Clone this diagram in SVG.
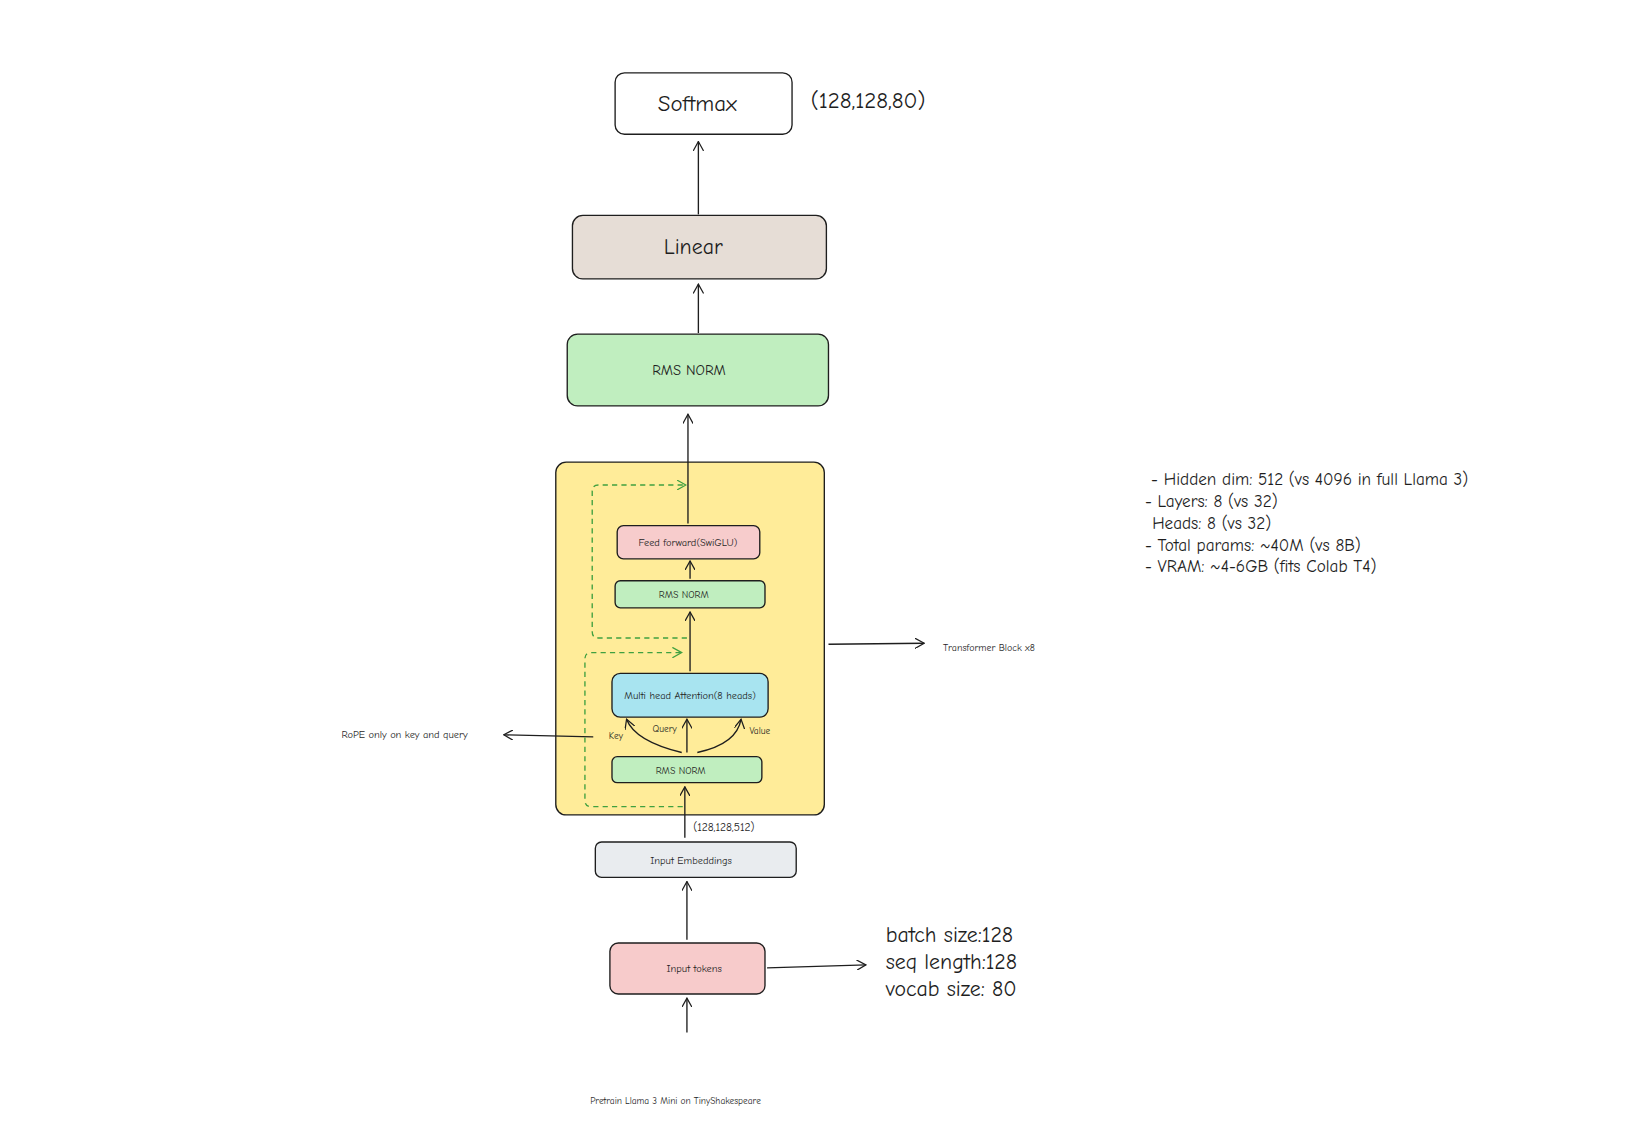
<svg xmlns="http://www.w3.org/2000/svg" width="1632" height="1138" viewBox="0 0 1632 1138">
<style>
text{font-family:"Comic Neue","Liberation Sans",sans-serif;fill:#1e1e1e}
.b{stroke:#1e1e1e;stroke-width:1.3}
.c{stroke:#1e1e1e;stroke-width:1.3;fill:none}
.d{stroke:#40a040;stroke-width:1.3;fill:none;stroke-dasharray:5 4}
</style>
<defs>
<marker id="a" viewBox="0 0 10 10" refX="9" refY="5" markerWidth="10" markerHeight="10" orient="auto" markerUnits="userSpaceOnUse"><path d="M0,0 L9,5 L0,10" fill="none" stroke="#1e1e1e" stroke-width="1.2"/></marker>
<marker id="g" viewBox="0 0 10 10" refX="9" refY="5" markerWidth="10" markerHeight="10" orient="auto" markerUnits="userSpaceOnUse"><path d="M0,0 L9,5 L0,10" fill="none" stroke="#40a040" stroke-width="1.2"/></marker>
</defs>
<rect width="1632" height="1138" fill="#fff"/>
<g transform="scale(1.0408)">
<g id="block"><rect x="534" y="444" width="258" height="339" rx="10" fill="#ffec99" class="b"/></g>
<g id="connectors">
<path class="c" d="M671,206 L671,136" marker-end="url(#a)"/>
<path class="c" d="M671,320 L671,273" marker-end="url(#a)"/>
<path class="c" d="M661,503 L661,398" marker-end="url(#a)"/>
<path class="c" d="M663,556 L663,539" marker-end="url(#a)"/>
<path class="c" d="M663,645 L663,588" marker-end="url(#a)"/>
<path class="c" d="M655,723 Q610,712 602,691" marker-end="url(#a)"/>
<path class="c" d="M660,723 L660,691" marker-end="url(#a)"/>
<path class="c" d="M670,723 Q708,715 712,691" marker-end="url(#a)"/>
<path class="c" d="M570,708 L484,706" marker-end="url(#a)"/>
<path class="c" d="M796,619 L888,618" marker-end="url(#a)"/>
<path class="c" d="M658,805 L658,756" marker-end="url(#a)"/>
<path class="c" d="M660,903 L660,847" marker-end="url(#a)"/>
<path class="c" d="M737,930 L832,927" marker-end="url(#a)"/>
<path class="c" d="M660,992 L660,959" marker-end="url(#a)"/>
<path class="d" d="M660,613 L575,613 Q569,613 569,607 L569,472 Q569,466 575,466 L659,466" marker-end="url(#g)"/>
<path class="d" d="M656,775 L568,775 Q562,775 562,769 L562,633 Q562,627 568,627 L655,627" marker-end="url(#g)"/>
</g>
<g id="softmax"><rect x="591" y="70" width="170" height="59" rx="9" fill="#fff" class="b"/><text x="670" y="107" font-size="22" text-anchor="middle">Softmax</text></g>
<g id="linear"><rect x="550" y="207" width="244" height="61" rx="10" fill="#e6ddd6" class="b"/><text x="666" y="244" font-size="21" text-anchor="middle">Linear</text></g>
<g id="rms-top"><rect x="545" y="321" width="251" height="69" rx="10" fill="#c0eebf" class="b"/><text x="662" y="360" font-size="14" text-anchor="middle">RMS NORM</text></g>
<g id="ff"><rect x="593" y="505" width="137" height="32" rx="6" fill="#f7cccc" class="b"/><text x="661" y="525" font-size="10" text-anchor="middle">Feed forward(SwiGLU)</text></g>
<g id="rms2"><rect x="591" y="558" width="144" height="26" rx="5" fill="#c0eebf" class="b"/><text x="657" y="575" font-size="9.5" text-anchor="middle">RMS NORM</text></g>
<g id="mha"><rect x="588" y="647" width="150" height="42" rx="8" fill="#a8e4f0" class="b"/><text x="663" y="672" font-size="10" text-anchor="middle">Multi head Attention(8 heads)</text></g>
<g id="rms1"><rect x="588" y="727" width="144" height="25" rx="5" fill="#c0eebf" class="b"/><text x="654" y="744" font-size="9.5" text-anchor="middle">RMS NORM</text></g>
<g id="emb"><rect x="572" y="809" width="193" height="34" rx="6" fill="#e9ecef" class="b"/><text x="664" y="830" font-size="10" text-anchor="middle">Input Embeddings</text></g>
<g id="tokens"><rect x="586" y="906" width="149" height="49" rx="8" fill="#f7cbcb" class="b"/><text x="667" y="934" font-size="10" text-anchor="middle">Input tokens</text></g>
<g id="labels">
<text x="779" y="104" font-size="22">(128,128,80)</text>
<text x="585" y="710" font-size="9">Key</text>
<text x="627" y="703" font-size="9">Query</text>
<text x="720" y="705" font-size="9">Value</text>
<text x="328" y="709" font-size="10">RoPE only on  key and query</text>
<text x="906" y="625" font-size="9.5">Transformer Block x8</text>
<text x="666" y="798" font-size="11">(128,128,512)</text>
<text x="851" y="905" font-size="21">batch size:128</text>
<text x="851" y="931" font-size="21">seq length:128</text>
<text x="851" y="957" font-size="21">vocab size: 80</text>
<text x="567" y="1061" font-size="9">Pretrain Llama 3 Mini on TinyShakespeare</text>
<text font-size="16.5"><tspan x="1106" y="466"> - Hidden dim: 512 (vs 4096 in full Llama 3)</tspan><tspan x="1100" y="487">- Layers: 8 (vs 32)</tspan><tspan x="1107" y="508">Heads: 8 (vs 32)</tspan><tspan x="1100" y="529">- Total params: ~40M (vs 8B)</tspan><tspan x="1100" y="550">- VRAM: ~4-6GB (fits Colab T4)</tspan></text>
</g>
</g>
</svg>
